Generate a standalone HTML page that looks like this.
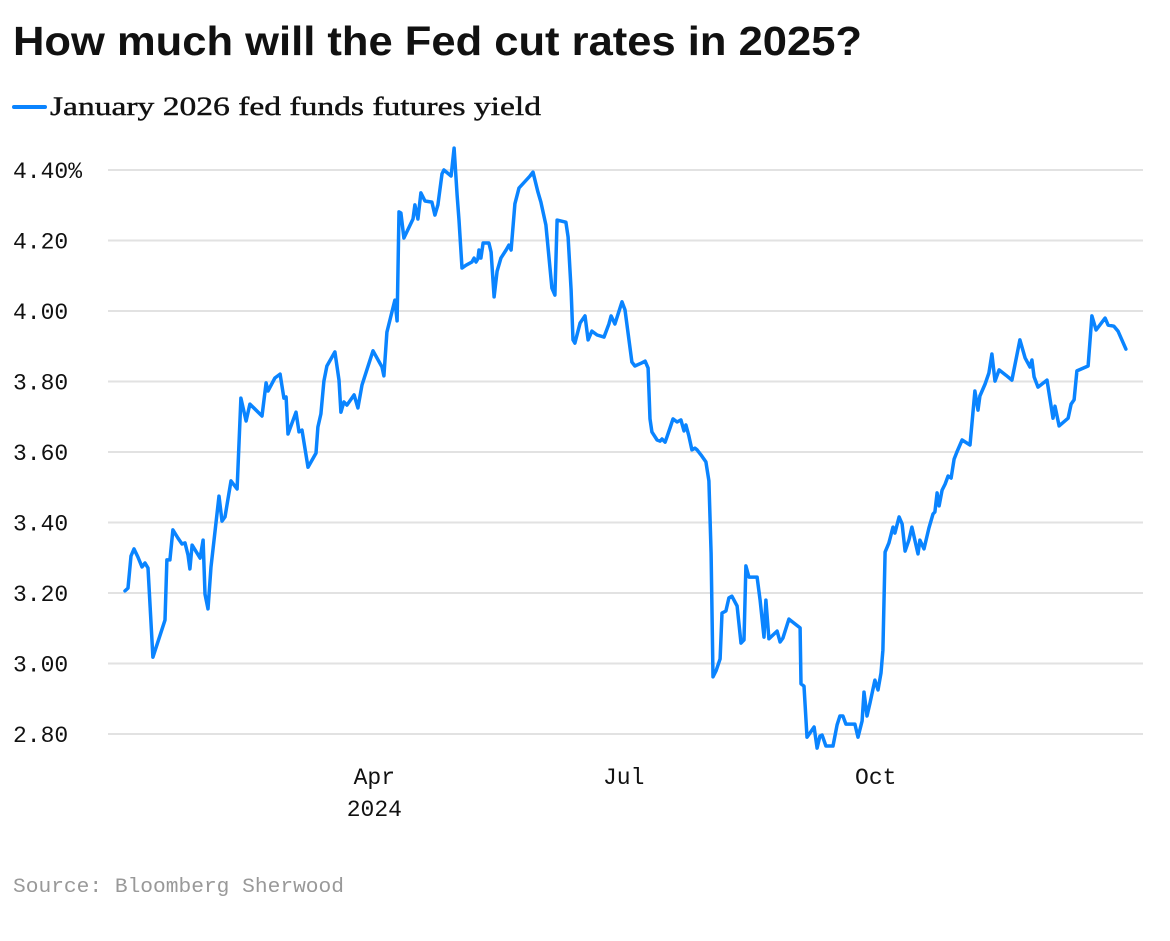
<!DOCTYPE html>
<html><head><meta charset="utf-8"><style>
body{margin:0;background:#fff;width:1170px;height:936px;overflow:hidden;font-family:"Liberation Sans",sans-serif}
</style></head><body>
<svg width="1170" height="936">
<text x="13" y="55" font-family="Liberation Sans" font-weight="bold" font-size="41" textLength="849" lengthAdjust="spacingAndGlyphs" fill="#111">How much will the Fed cut rates in 2025?</text>
<g>
<line x1="14" y1="107" x2="45" y2="107" stroke="#0a84ff" stroke-width="4" stroke-linecap="round"/>
<text x="50" y="115" font-family="Liberation Serif" font-size="26" textLength="491" lengthAdjust="spacingAndGlyphs" fill="#111" stroke="#111" stroke-width="0.4">January 2026 fed funds futures yield</text>
</g>
<g id="grid"></g><g id="ylab"></g><g id="xlab"></g>
<path id="line" fill="none" stroke="#0a84ff" stroke-width="3.5" stroke-linejoin="round" stroke-linecap="round"/>
<text x="13" y="892" font-family="Liberation Mono" font-size="20" textLength="331" lengthAdjust="spacingAndGlyphs" fill="#999">Source: Bloomberg Sherwood</text>
</svg>
<script>
const dayOfYear=[0,1.1,2.2,3.3,4.7,6.2,7.3,8.4,10.2,14.6,15.3,16.4,17.5,19.3,20.8,21.9,23,23.7,24.5,26.3,27.4,28.5,29.2,30.3,31.4,34.3,35.4,36.5,38.7,40.9,42.3,44.2,45.6,50,51.5,52.2,54.7,56.6,58,58.8,59.5,62.4,63.5,64.6,66.8,69.7,70.4,71.5,72.6,73.7,76.6,78.1,78.8,79.9,81,83.6,85,86.5,90.5,93.8,94.5,95.6,98.5,99.3,100,100.7,101.8,105.1,105.8,106.9,108,109.5,112,113.1,114.2,115.7,116.4,119,120.1,121.2,121.9,123,124.5,126.6,127.4,128.1,128.8,129.2,129.9,130.7,132.8,133.6,134.7,135.8,137.2,139.1,140.1,140.9,142.3,143.8,147.8,148.9,150.7,151.8,153.6,155.8,156.9,157.7,160.9,161.7,162.8,163.5,164.2,166.1,167.9,169,170.4,172.3,174.8,176.6,177.4,178.8,181.4,182.5,185,186.1,188.7,189.8,190.9,191.6,192.3,194.2,195.3,196,197.1,197.8,198.9,200,201.5,202.9,204,204.7,205.8,206.9,208,208.8,210.2,212,213.1,213.9,214.6,215.7,217.2,217.9,219.3,220.4,221.5,223.4,224.8,225.9,226.6,227.7,230.7,231.8,233.2,233.9,235,238,239.1,240.1,242.3,246.4,246.7,247.8,248.9,251.5,252.6,253.6,254.4,255.8,258.4,259.9,260.9,262,263.1,266.4,267.5,269,269.7,270.8,271.9,273.7,274.8,275.9,276.6,277.4,278.8,280.3,281,282.5,283.6,284.7,286.1,287.2,289.4,290.1,291.6,293.4,294.9,295.6,296.4,297.1,298.2,299.3,300.4,301.5,302.6,303.6,305.5,308.4,310.2,311.3,312,313.9,315.3,316.4,317.5,319,321.5,323.7,326.6,328.5,330.3,331,331.8,333.2,336.5,338.7,339.4,340.9,344.2,345.3,346.4,347.4,351.5,352.9,354.4,357.7,358.8,360.9,362.4,365.3];
const yieldValues=[3.206,3.214,3.305,3.325,3.302,3.274,3.285,3.271,3.018,3.123,3.294,3.294,3.379,3.356,3.339,3.342,3.308,3.268,3.336,3.313,3.299,3.35,3.197,3.155,3.274,3.475,3.404,3.416,3.518,3.495,3.753,3.688,3.736,3.702,3.796,3.773,3.81,3.821,3.753,3.756,3.651,3.713,3.657,3.662,3.557,3.597,3.671,3.708,3.801,3.844,3.884,3.804,3.713,3.742,3.733,3.762,3.725,3.79,3.887,3.841,3.816,3.94,4.031,3.972,4.281,4.278,4.207,4.261,4.301,4.261,4.335,4.312,4.309,4.272,4.301,4.389,4.4,4.383,4.462,4.329,4.258,4.122,4.13,4.139,4.15,4.139,4.148,4.173,4.15,4.193,4.193,4.167,4.04,4.113,4.15,4.173,4.187,4.173,4.304,4.349,4.383,4.394,4.338,4.309,4.244,4.065,4.045,4.258,4.252,4.21,4.06,3.918,3.909,3.966,3.986,3.918,3.943,3.932,3.926,3.963,3.986,3.963,4.026,4.003,3.855,3.844,3.853,3.858,3.838,3.694,3.657,3.634,3.631,3.637,3.628,3.643,3.668,3.694,3.685,3.691,3.66,3.677,3.645,3.606,3.611,3.606,3.592,3.572,3.518,3.313,2.962,2.979,3.013,3.143,3.149,3.186,3.191,3.163,3.058,3.067,3.277,3.245,3.245,3.18,3.075,3.18,3.07,3.092,3.061,3.072,3.126,3.101,2.942,2.936,2.791,2.82,2.76,2.794,2.797,2.766,2.766,2.826,2.851,2.851,2.828,2.828,2.791,2.837,2.919,2.851,2.888,2.953,2.925,2.973,3.038,3.316,3.342,3.387,3.37,3.416,3.396,3.319,3.35,3.387,3.311,3.35,3.325,3.384,3.424,3.43,3.484,3.447,3.492,3.509,3.532,3.526,3.58,3.6,3.634,3.62,3.773,3.719,3.759,3.793,3.824,3.878,3.801,3.833,3.818,3.804,3.918,3.867,3.841,3.861,3.813,3.784,3.804,3.696,3.73,3.674,3.696,3.736,3.748,3.83,3.844,3.986,3.946,3.98,3.96,3.957,3.943,3.892];
const yTicks=[4.4,4.2,4.0,3.8,3.6,3.4,3.2,3.0,2.8];
const yTickLabels=["4.40%","4.20","4.00","3.80","3.60","3.40","3.20","3.00","2.80"];
const xTickDays=[91,182,274];
const xTickLabels=["Apr","Jul","Oct"];
const xSubLabels=["2024","",""];
const NS="http://www.w3.org/2000/svg";
function xs(d){return 125+d*2.74;}
function ys(v){return 170+(4.4-v)*352.5;}
const grid=document.getElementById('grid'),ylab=document.getElementById('ylab'),xlab=document.getElementById('xlab');
yTicks.forEach((t,i)=>{
 const l=document.createElementNS(NS,'line');
 l.setAttribute('x1',108);l.setAttribute('x2',1143);l.setAttribute('y1',ys(t));l.setAttribute('y2',ys(t));
 l.setAttribute('stroke','#e2e2e2');l.setAttribute('stroke-width','2');
 
 
 grid.appendChild(l);
 const tx=document.createElementNS(NS,'text');
 tx.setAttribute('x',13);tx.setAttribute('y',ys(t)+8);
 tx.setAttribute('font-family','Liberation Mono');tx.setAttribute('font-size','23');tx.setAttribute('fill','#111');
 tx.textContent=yTickLabels[i];
 
 
 ylab.appendChild(tx);
});
xTickDays.forEach((d,i)=>{
 const tx=document.createElementNS(NS,'text');
 tx.setAttribute('x',xs(d));tx.setAttribute('y',784);tx.setAttribute('text-anchor','middle');
 tx.setAttribute('font-family','Liberation Mono');tx.setAttribute('font-size','23');tx.setAttribute('fill','#111');
 tx.textContent=xTickLabels[i];
 
 
 xlab.appendChild(tx);
 if(xSubLabels[i]){
  const t2=document.createElementNS(NS,'text');
  t2.setAttribute('x',xs(d));t2.setAttribute('y',816);t2.setAttribute('text-anchor','middle');
  t2.setAttribute('font-family','Liberation Mono');t2.setAttribute('font-size','23');t2.setAttribute('fill','#111');
  t2.textContent=xSubLabels[i];
  
  
  xlab.appendChild(t2);
 }
});
document.getElementById('line').setAttribute('d',dayOfYear.map((d,i)=>(i?'L':'M')+xs(d).toFixed(1)+' '+ys(yieldValues[i]).toFixed(1)).join(''));
</script>
</body></html>
